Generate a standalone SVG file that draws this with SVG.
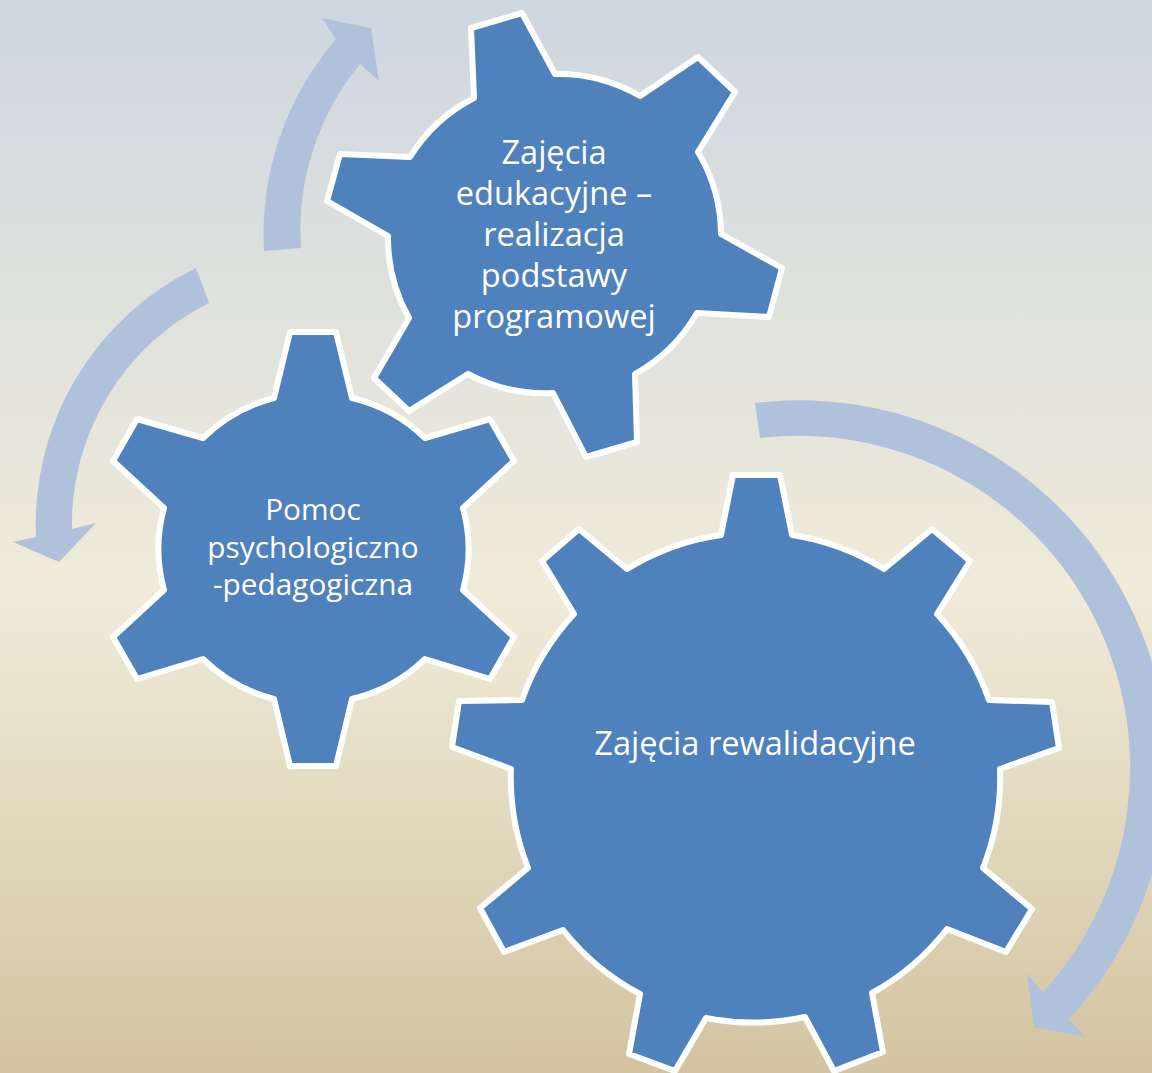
<svg xmlns="http://www.w3.org/2000/svg" width="1152" height="1073" viewBox="0 0 1152 1073">
<defs>
<linearGradient id="bg" x1="0" y1="0" x2="0" y2="1">
<stop offset="0" stop-color="#cdd7e0"/>
<stop offset="0.55" stop-color="#f0ebd9"/>
<stop offset="1" stop-color="#d2c4a0"/>
</linearGradient>
</defs>
<style>
.gear{fill:#4f81bd;stroke:#fff;stroke-width:6;stroke-linejoin:round}
.arrow{fill:#b0c1dc}
text{font-family:"Open Sans","Noto Sans",sans-serif;fill:#fff;text-anchor:middle}
.t1{font-size:32.6px}
.t2{font-size:29.8px}
</style>
<rect width="1152" height="1073" fill="url(#bg)"/>
<g id="connectors">
<path class="arrow" d="M755 403A368 368 0 0 1 1069 1019L1085 1037L1034 1027L1027 974L1043 992A332 332 0 0 0 760 438Z"/>
<path class="arrow" d="M264 251A300 300 0 0 1 336 39L322 18L371 28L379 81L360 64A262 262 0 0 0 301 248Z"/>
<path class="arrow" d="M196 268A285 285 0 0 0 36 537L13 542L59 562L96 523L72 529A247 247 0 0 1 209 303Z"/>
</g>
<g id="gear-top">
<path class="gear" d="M471 28L522 13L555 74A162 162 0 0 1 640 96L698 57L735 92L698 152A162 162 0 0 1 721 234L782 268L769 317L697 313A162 162 0 0 1 635 374L637 442L586 457L553 393A162 162 0 0 1 468 374L409 411L374 378L409 318A162 162 0 0 1 388 236L327 201L340 154L410 157A162 162 0 0 1 474 98Z"/>
<text class="t1" x="554" y="164">Zajęcia</text>
<text class="t1" x="554" y="205">edukacyjne –</text>
<text class="t1" x="554" y="246">realizacja</text>
<text class="t1" x="554" y="287">podstawy</text>
<text class="t1" x="554" y="328">programowej</text>
</g>
<g id="gear-left">
<path class="gear" d="M290 332H336L352 398A155 155 0 0 1 425 438L490 419L514 461L463 508A155 155 0 0 1 463 590L514 637L490 679L425 659A155 155 0 0 1 352 699L336 766H290L274 699A155 155 0 0 1 203 659L137 679L113 637L164 590A155 155 0 0 1 164 508L113 461L137 419L203 438A155 155 0 0 1 274 398Z"/>
<text class="t2" x="313" y="520">Pomoc</text>
<text class="t2" x="313" y="558">psychologiczno</text>
<text class="t2" x="313" y="595">-pedagogiczna</text>
</g>
<g id="gear-bottom">
<path class="gear" d="M733 475H780L792 535A245 245 0 0 1 884 569L932 529L970 561L937 614A245 245 0 0 1 989 700L1052 702L1059 748L1000 769A245 245 0 0 1 983 868L1032 909L1006 952L947 929A245 245 0 0 1 872 993L883 1052L834 1071L805 1017A245 245 0 0 1 706 1018L675 1071L629 1054L640 994A245 245 0 0 1 563 930L504 952L480 908L528 868A245 245 0 0 1 511 769L452 747L459 701L522 700A245 245 0 0 1 574 614L542 561L579 529L627 569A245 245 0 0 1 721 535Z"/>
<text class="t1" x="755" y="755">Zajęcia rewalidacyjne</text>
</g>
</svg>
